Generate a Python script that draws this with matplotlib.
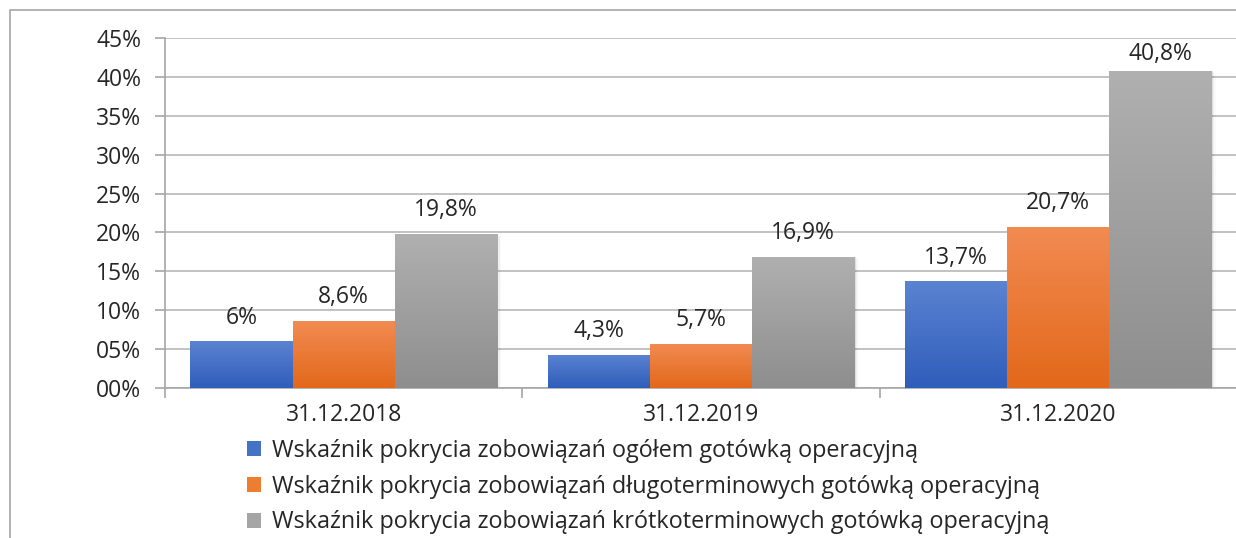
import matplotlib
matplotlib.use("Agg")
import matplotlib.pyplot as plt
import numpy as np
from matplotlib.patches import Rectangle
from matplotlib.colors import LinearSegmentedColormap

categories = ["31.12.2018", "31.12.2019", "31.12.2020"]
series_names = [
    "Wskaźnik pokrycia zobowiązań ogółem gotówką operacyjną",
    "Wskaźnik pokrycia zobowiązań długoterminowych gotówką operacyjną",
    "Wskaźnik pokrycia zobowiązań krótkoterminowych gotówką operacyjną",
]
ogolem = [6.0, 4.3, 13.7]
dlugo = [8.6, 5.7, 20.7]
krotko = [19.8, 16.9, 40.8]
value_labels = [["6%", "4,3%", "13,7%"], ["8,6%", "5,7%", "20,7%"], ["19,8%", "16,9%", "40,8%"]]
y_ticks = [0, 5, 10, 15, 20, 25, 30, 35, 40, 45]
y_tick_labels = ["00%", "05%", "10%", "15%", "20%", "25%", "30%", "35%", "40%", "45%"]

colors_top = ["#5b83d2", "#f28b52", "#b0b0b0"]
colors_bot = ["#2f5dba", "#e2681a", "#8e8e8e"]
colors_mid = ["#4472c4", "#ed7d31", "#a5a5a5"]

plt.rcParams['font.family'] = ['Open Sans', 'DejaVu Sans']
FS = 16.5

W, H = 1236, 538
fig = plt.figure(figsize=(W / 100, H / 100), dpi=100)
fig.patches.append(Rectangle((10 / W, -0.1), 1.5, 1.1 - 10 / H, transform=fig.transFigure,
                             fill=False, edgecolor="#a6a6a6", linewidth=1.2))

ax = fig.add_axes([165 / W, 1 - 388 / H, (1237 - 165) / W, 350 / H])
ax.set_xlim(-0.5, 2.5)
ax.set_ylim(0, 45)

x = np.arange(len(categories))
bw = 0.286
series = [ogolem, dlugo, krotko]
for i, vals in enumerate(series):
    offs = (i - 1) * bw
    bars = ax.bar(x + offs, vals, width=bw, color=colors_mid[i], zorder=3,
                  linewidth=0, label=series_names[i])
    cmap = LinearSegmentedColormap.from_list("g%d" % i, [colors_bot[i], colors_top[i]])
    for b, lab in zip(bars, value_labels[i]):
        x0, w, h = b.get_x(), b.get_width(), b.get_height()
        for k, a in enumerate([0.07, 0.04, 0.02]):
            d = 0.004 * (k + 1)
            sh = Rectangle((x0 + d, 0), w, max(h - 0.1 * (k + 1), 0), color="#000000",
                           alpha=a, zorder=2, linewidth=0)
            ax.add_patch(sh)
        grad = np.linspace(0, 1, 256).reshape(-1, 1)
        im = ax.imshow(grad, extent=[x0, x0 + w, 0, h], origin="lower", aspect="auto",
                       cmap=cmap, zorder=4)
        im.set_clip_path(b)
        ax.text(x0 + w / 2, min(h + 1.5, 41.4), lab, ha="center", va="bottom", fontsize=FS,
                color="#262626", zorder=5)

ax.set_xlim(-0.5, 2.5)
ax.set_ylim(0, 45)

ax.set_yticks(y_ticks)
ax.set_yticklabels(y_tick_labels, fontsize=FS, color="#262626")
ax.set_xticks(x)
ax.set_xticklabels(categories, fontsize=FS, color="#262626")
ax.set_xticks([-0.5, 0.5, 1.5, 2.5], minor=True)
ax.tick_params(axis="x", which="major", length=0, pad=11)
ax.tick_params(axis="x", which="minor", length=7, color="#a6a6a6", width=1.2)
ax.tick_params(axis="y", length=7, color="#a6a6a6", width=1.2, pad=10)

ax.grid(axis="y", color="#b8b8b8", linewidth=1.2, zorder=0)
ax.set_axisbelow(True)
for s in ["top", "right"]:
    ax.spines[s].set_visible(False)
ax.spines["left"].set_color("#a6a6a6")
ax.spines["left"].set_linewidth(1.2)
ax.spines["bottom"].set_color("#a6a6a6")
ax.spines["bottom"].set_linewidth(1.2)

handles = [Rectangle((0, 0), 1, 1, facecolor=c, edgecolor="none") for c in colors_mid]
fig.legend(handles, series_names, loc="upper left",
           bbox_to_anchor=(247 / W, 1 - 439 / H), frameon=False, fontsize=16.8,
           handlelength=0.6, handleheight=0.6, handletextpad=0.45, labelspacing=0.5,
           labelcolor="#262626", borderaxespad=0, borderpad=0)

fig.savefig("out.png", dpi=100)
